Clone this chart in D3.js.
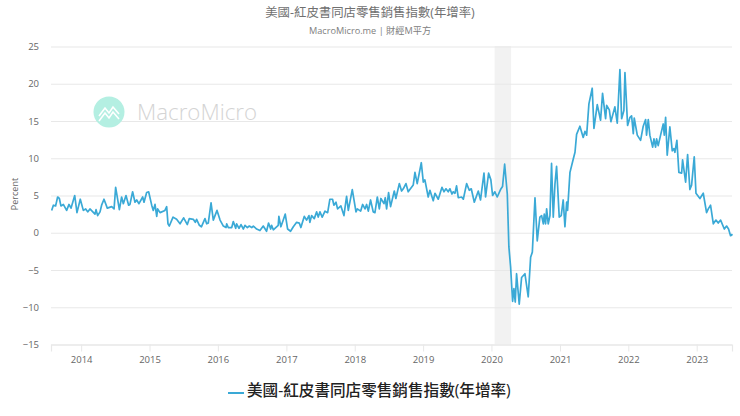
<!DOCTYPE html>
<html><head><meta charset="utf-8">
<script src="https://cdn.jsdelivr.net/npm/d3@7/dist/d3.min.js"></script>
<style>html,body{margin:0;padding:0;background:#fff}svg{display:block}</style>
</head><body><div id="c"></div>
<script>
const titleText = "美國-紅皮書同店零售銷售指數(年增率)";
const subtitleText = "MacroMicro.me | 財經M平方";
const yTicks = [-15,-10,-5,0,5,10,15,20,25];
const firstWeek = "2013-07-24";
const stepDays = 7.075;
const recession = ["2020-01-18","2020-04-15"];
const weekIndex = [0.5,1.8,3.5,5,6.3,7.5,9.3,11.8,13.6,15.1,17.9,19.6,22.1,24.4,26.2,27.7,29.4,33.2,34,35.2,37,38.2,40,42.5,45.8,47.6,48.8,51.6,53.3,54.6,56.6,58.6,59.6,61.6,63.4,64.7,66.4,69.2,70.2,72.2,73.7,76,77.2,78.5,79.8,80.5,82.3,86,87.3,88.3,89.3,92.1,94.8,97.4,100.1,102.9,104.4,107.4,108.9,109.9,112,113.5,116.2,117.5,118.7,120.8,122.5,125.3,127.6,130.1,132.1,132.6,133.8,136.4,137.6,139.4,140.1,141.9,143.4,145.2,146.4,148.2,149.7,151.5,152.7,155.2,
157.7,160.2,162.7,164.2,165.8,166.5,167.8,171.5,172,173.5,175.3,176.8,178.6,180.8,182.9,185.4,187.4,188.6,191.2,192.9,194.7,195.4,196.7,198.7,200.5,201.7,203,204.7,206.8,208.8,210.5,212.5,213.5,215.1,216.3,218.8,221.1,223.1,224.4,227.4,230.2,231.2,233.7,235.2,237,238.2,239.5,241.2,243.2,244.5,246.3,247.8,249,251.3,252.3,253.3,254.8,256.3,259.1,260.3,262.9,264.6,265.9,267.9,269.6,273.4,274.7,276.4,279.5,281,282.2,284.7,286,288.5,289.8,292.3,295.1,296.6,298.1,299.8,301.1,302.6,303.6,304.9,306.1,307.4,309.9,311.2,313.7,315.7,317.2,319.5,322.5,324.2,326.8,328,330.3,332,333.3,335,336.8,339.3,340.8,342.4,344.4,345.6,346.9,348.4,349.4,350.4,351.4,353.4,355.2,357.7,360.2,362,363.3,365.3,367,369,370.3,371.6,372.3,373.3,374.1,375.3,376.6,377.8,379.1,380.4,381.6,383.6,385.1,386.6,387.9,389.2,389.9,391.7,394.2,395.5,396.7,399.2,401.7,403,404.3,406,408.5,409.8,412.3,414.8,416.3,418.6,419.4,421.4,422.6,425.6,427.4,429.4,430.7,432.4,433.2,435.2,437,438.2,439.5,440.2,442.5,445,447,448.8,449.5,450.8,452,454.1,455.1,456.3,457.1,458.3,460.1,462.1,462.9,463.9,465.1,467.1,468.9,470.2,470.9,472.4,473.9,476,476.7,479,480.5,482.2,483.5,485.5,486.8,489.8,492.3,494.8,496.1,497.8,499.9,501.9,503.6,505.4,508.2,509.9,511.4,512.9,514.4];
const percent = [3,3.7,3.6,4.8,4.6,3.6,3.8,3,3.8,3.3,5,2.7,4.5,3,3.2,2.8,3.2,2.5,3.1,2.3,2.8,3.7,4.5,3.3,3.5,3.2,6.1,3.1,4.8,3.9,5,3.7,3.8,5.5,4.1,4.4,3.9,4.8,4.1,5.4,5.5,3.7,3,3.8,2.2,3.2,2.7,3,3.5,1.2,0.9,2.1,1.8,1.2,2,1.1,1.9,1.8,1.4,1.8,1,0.8,1.9,1.2,1.3,4,1.7,3,1.7,0.9,0.7,1.2,0.7,0.7,1.5,0.6,1.2,0.6,1.1,0.5,1,0.7,0.9,0.7,0.9,0.5,
0.3,0.9,0.2,1.3,0.5,1,0.4,1,2.2,0.8,1.7,2.5,0.5,0.2,0.8,1.4,1.3,0.7,2.2,1.7,2.3,1.4,2.3,1.9,2.8,2.1,2.8,2.1,2.9,2.7,4.5,4.5,3.7,4.1,3.2,3.6,2.3,4.9,3,5.8,2.8,3.2,2.9,3.8,3.2,3.8,2.9,4.4,2.8,2.7,4.8,3.2,4.6,3.9,4.7,3.2,5.4,3.5,5.6,4.6,6.6,5.6,5.9,6.6,5.5,6.4,8.1,6.6,9.4,6.8,7.1,4.8,5.7,4.3,5.3,4.5,6.1,5.5,5.9,5.5,5.9,5.2,5.5,5.3,6.3,4.7,4.8,4.5,6.6,5.7,5.9,4.1,5.6,4.4,8,4.8,8,7.1,5,5.5,4.8,5.8,6.2,9.2,5.2,-1.9,-4.6,-9.2,-7.5,-9.3,-5.5,-9.6,-6,-5.5,-8.6,-3.3,-2.6,4.7,-1.1,2.1,2.3,1.2,2.5,1.2,3.2,1.2,2.3,9.3,2.1,6.6,8.9,2.1,2.3,4.4,0.8,4.1,3,8.1,9.9,10.8,13.2,14.3,12.8,13.6,13.1,17.3,19.4,14,17.2,15.1,18.7,15.3,17.1,16.5,14.9,16.9,14.7,21.9,15.3,16.4,21.5,14.4,15.5,15.7,13.3,15.4,13.1,12.4,14.3,15.2,13.1,15.2,13.1,11.5,12.6,11.5,12.6,11.7,13.1,14.6,13.1,15.5,10.4,14.2,11,11.3,10.8,12.4,8.1,8,9.8,6.8,10.5,5.8,6.4,10.2,5.3,4.6,5.3,2.7,3.2,3.7,1.2,1.7,1.3,1.7,0.5,0.9,0.5,-0.4,-0.2];

const W=740,H=416;
const start=new Date(firstWeek+"T00:00:00");
const toDate=w=>new Date(start.getTime()+w*stepDays*864e5);
const x=d3.scaleTime().domain([toDate(0),toDate(514)]).range([51,732]);
const y=d3.scaleLinear().domain([-15,25]).range([344.5,46.5]);
const svg=d3.select("#c").append("svg").attr("width",W).attr("height",H);
const cjk="'Open Sans','Noto Sans CJK TC',sans-serif";

// plot band
const parse=s=>new Date(s+"T00:00:00");
svg.append("rect").attr("x",x(parse(recession[0]))).attr("y",46).attr("width",x(parse(recession[1]))-x(parse(recession[0]))).attr("height",298.5).attr("fill","#f2f2f2");

// grid + y labels
const yAxis=d3.axisLeft(y).tickValues(yTicks).tickSize(-(732-51)).tickPadding(12).tickFormat(d3.format("d"));
const gy=svg.append("g").attr("transform","translate(51,0)").call(yAxis);
gy.select(".domain").remove();
gy.selectAll("line").attr("stroke","#e8e8e8").attr("stroke-width",1.2);
gy.selectAll("text").attr("fill","#666").style("font","9.5px "+cjk);

// watermark: round badge with a white chart glyph, then the word mark
svg.append("circle").attr("cx",109).attr("cy",112).attr("r",15.5).attr("fill","#b4efe2");
const logo=svg.append("g").attr("transform","translate(109,112)").attr("fill","none").attr("stroke","#fff").attr("stroke-width",1.6);
logo.append("path").attr("d","M-10,4L-4,-4L0,1L4,-5L10,2");
logo.append("path").attr("d","M-10,9L-4,1L0,6L4,0L10,7");
svg.append("text").attr("x",137).attr("y",120).text("MacroMicro").attr("fill","#d4d4d4").style("font","300 22.3px 'Open Sans',sans-serif");

// x axis
const xAxis=d3.axisBottom(x).ticks(d3.timeYear.every(1)).tickSize(7).tickPadding(5).tickFormat(d3.timeFormat("%Y"));
const gx=svg.append("g").attr("transform","translate(0,344.5)").call(xAxis);
gx.select(".domain").attr("stroke","#e8e8e8").attr("stroke-width",1.2);
gx.selectAll("line").attr("stroke","#e8e8e8");
gx.selectAll("text").attr("fill","#666").style("font","9.5px "+cjk);

// series
const pts=weekIndex.map((w,i)=>[toDate(w),percent[i]]);
svg.append("path").datum(pts).attr("fill","none").attr("stroke","#3aa9d6").attr("stroke-width",1.7).attr("stroke-linejoin","round")
  .attr("d",d3.line().x(d=>x(d[0])).y(d=>y(d[1])));

// text
svg.append("text").attr("x",370).attr("y",17).attr("text-anchor","middle").text(titleText).attr("fill","#707070").style("font","12.4px "+cjk);
svg.append("text").attr("x",370).attr("y",34).attr("text-anchor","middle").text(subtitleText).attr("fill","#808080").style("font","9.2px "+cjk);
svg.append("text").attr("transform","translate(18,194) rotate(-90)").attr("text-anchor","middle").text("Percent").attr("fill","#666").style("font","9px "+cjk);

// legend
svg.append("line").attr("x1",228).attr("x2",244).attr("y1",393).attr("y2",393).attr("stroke","#3aa9d6").attr("stroke-width",2);
svg.append("text").attr("x",247).attr("y",396).text(titleText).attr("fill","#222").style("font","500 15.6px "+cjk);
</script></body></html>
